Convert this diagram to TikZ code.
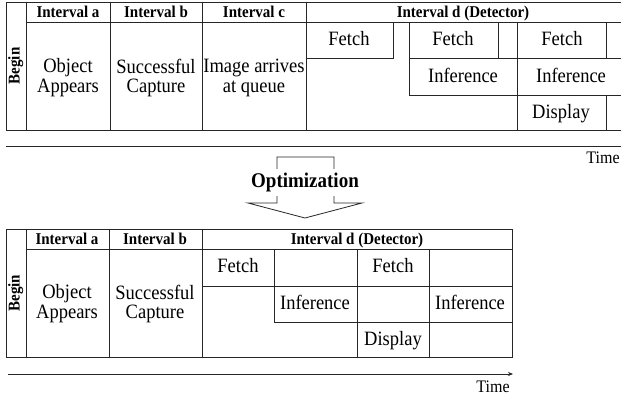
\documentclass[tikz,border=0pt]{standalone}
\usepackage{fontspec}
\setmainfont{Liberation Serif}
\usetikzlibrary{arrows.meta}
\newcommand{\vstr}[1]{\scalebox{1}[1.1]{\begin{tabular}{@{}c@{}}#1\end{tabular}}}
\tikzset{
  grid/.style={draw=black!85, line width=0.8pt},
  body/.style={font=\fontsize{18.5}{18}\selectfont, inner sep=0pt, yshift=-1.8pt},
  head/.style={font=\fontsize{15}{16}\selectfont\bfseries, inner sep=0pt, yshift=-1.5pt},
  begintxt/.style={font=\fontsize{15}{16}\selectfont\bfseries, rotate=90, inner sep=0pt},
  timetxt/.style={font=\fontsize{16}{18}\selectfont, inner sep=0pt, yshift=-1.5pt},
  timeline/.style={draw=black!85, line width=0.8pt, -{Stealth[length=5pt,width=4pt]}},
}
\begin{document}
\begin{tikzpicture}[x=1pt,y=-1pt]
\useasboundingbox (0,0) rectangle (621,398);
\clip (0,0) rectangle (621,398);
\fill[white] (0,0) rectangle (621,398);

% ---------- top table ----------
\draw[grid] (640,2) -- (6,2) -- (6,130) -- (640,130);
\draw[grid] (26,2) -- (26,130);
\draw[grid] (26,22) -- (640,22);
\draw[grid] (110,2) -- (110,130);
\draw[grid] (202,2) -- (202,130);
\draw[grid] (306,2) -- (306,130);
\draw[grid] (306,58) -- (393,58) -- (393,22);
\draw[grid] (409,22) -- (409,95);
\draw[grid] (409,58) -- (640,58);
\draw[grid] (409,95) -- (640,95);
\draw[grid] (498,22) -- (498,58);
\draw[grid] (517,22) -- (517,130);
\draw[grid] (606,22) -- (606,58);
\draw[grid] (606,95) -- (606,130);

\node[begintxt] (tbegin) at (16,66) {\vstr{Begin}};
\node[head] (tha) at (68,12) {\vstr{Interval a}};
\node[head] (thb) at (156,12) {\vstr{Interval b}};
\node[head] (thc) at (254,12) {\vstr{Interval c}};
\node[head] (thd) at (463,12) {\vstr{Interval d (Detector)}};
\node[body] (tobj) at (68,77) {\vstr{Object\\Appears}};
\node[body] (tcap) at (156,77) {\vstr{Successful\\Capture}};
\node[body] (tque) at (254,77) {\vstr{Image arrives\\at queue}};
\node[body] (tf1) at (349,40) {\vstr{Fetch}};
\node[body] (tf2) at (453,40) {\vstr{Fetch}};
\node[body] (tf3) at (562,40) {\vstr{Fetch}};
\node[body] (ti1) at (463,77) {\vstr{Inference}};
\node[body] (ti2) at (571,77) {\vstr{Inference}};
\node[body] (tdi) at (561,113) {\vstr{Display}};

% top time axis
\coordinate (ta0) at (6,146);
\coordinate (ta1) at (632,146);
\draw[timeline] (ta0) -- (ta1);
\node[timetxt] (ttime) at (603,158) {\vstr{Time}};

% ---------- optimization arrow ----------
\draw[draw=black!85, line width=0.8pt]
  (277,157) -- (334,157) -- (334,203) -- (362,203) -- (305,218)
  -- (248,203) -- (277,203) -- cycle;
\node[font=\fontsize{19}{22}\selectfont\bfseries, fill=white, inner sep=1pt, yshift=-1.5pt] (opt) at (305,181) {\vstr{Optimization}};

% ---------- bottom table ----------
\draw[grid] (6,229) rectangle (512,357);
\draw[grid] (26,229) -- (26,357);
\draw[grid] (26,249) -- (512,249);
\draw[grid] (109,229) -- (109,357);
\draw[grid] (202,229) -- (202,357);
\draw[grid] (274,249) -- (274,322);
\draw[grid] (357,249) -- (357,357);
\draw[grid] (429,249) -- (429,357);
\draw[grid] (202,286) -- (512,286);
\draw[grid] (274,322) -- (512,322);

\node[begintxt] (bbegin) at (16,293) {\vstr{Begin}};
\node[head] (bha) at (67,239) {\vstr{Interval a}};
\node[head] (bhb) at (155,239) {\vstr{Interval b}};
\node[head] (bhd) at (357,239) {\vstr{Interval d (Detector)}};
\node[body] (bobj) at (67,303) {\vstr{Object\\Appears}};
\node[body] (bcap) at (155,303) {\vstr{Successful\\Capture}};
\node[body] (bf1) at (238,267) {\vstr{Fetch}};
\node[body] (bf2) at (393,267) {\vstr{Fetch}};
\node[body] (bi1) at (315,304) {\vstr{Inference}};
\node[body] (bi2) at (470,304) {\vstr{Inference}};
\node[body] (bdi) at (393,340) {\vstr{Display}};

% bottom time axis
\coordinate (ba0) at (8,374);
\coordinate (ba1) at (513,374);
\draw[timeline] (ba0) -- (ba1);
\node[timetxt] (btime) at (493,387) {\vstr{Time}};
\end{tikzpicture}
\end{document}
